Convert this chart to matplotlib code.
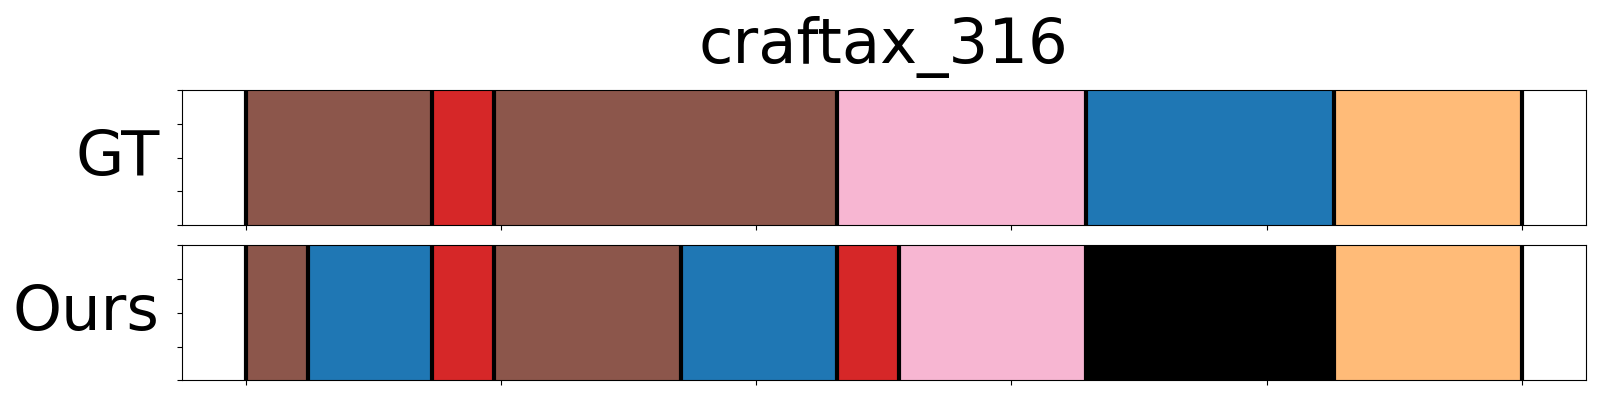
import matplotlib
matplotlib.use("Agg")
import matplotlib.pyplot as plt

title = "craftax_316"
row_labels = ["GT", "Ours"]

# segment boundaries (frame index) and class colours per row
gt_bounds = [0, 36.5, 48.6, 115.8, 164.6, 213.2, 250]
gt_colors = ["#8c564b", "#d62728", "#8c564b", "#f7b6d2", "#1f77b4", "#ffbb78"]

ours_bounds = [0, 12.2, 36.5, 48.6, 85.3, 115.8, 128, 164.6, 213.2, 250]
ours_colors = ["#8c564b", "#1f77b4", "#d62728", "#8c564b", "#1f77b4",
               "#d62728", "#f7b6d2", "#000000", "#ffbb78"]

xticks = [0, 50, 100, 150, 200, 250]
yticks = [0, 0.25, 0.5, 0.75, 1.0]

fig = plt.figure(figsize=(16, 4), dpi=100)
ax_gt = fig.add_axes([0.1136, 0.437, 0.8775, 0.3375])
ax_ours = fig.add_axes([0.1136, 0.049, 0.8775, 0.3375])

for ax, bounds, colors, label in [(ax_gt, gt_bounds, gt_colors, row_labels[0]),
                                  (ax_ours, ours_bounds, ours_colors, row_labels[1])]:
    for s, e, c in zip(bounds[:-1], bounds[1:], colors):
        ax.axvspan(s, e, color=c, lw=0)
    for b in bounds:
        ax.axvline(b, color="black", lw=3)
    ax.set_xlim(-12.5, 262.5)
    ax.set_ylim(0, 1)
    ax.set_xticks(xticks)
    ax.set_xticklabels([])
    ax.set_yticks(yticks)
    ax.set_yticklabels([])
    ax.set_ylabel(label, rotation=0, fontsize=45, ha="right", va="center")
    ax.yaxis.set_label_coords(-0.0158, 0.5)

fig.suptitle(title, fontsize=45, x=0.552, y=1 - 63 / 400, va="baseline")

fig.savefig("out.png", dpi=100)
